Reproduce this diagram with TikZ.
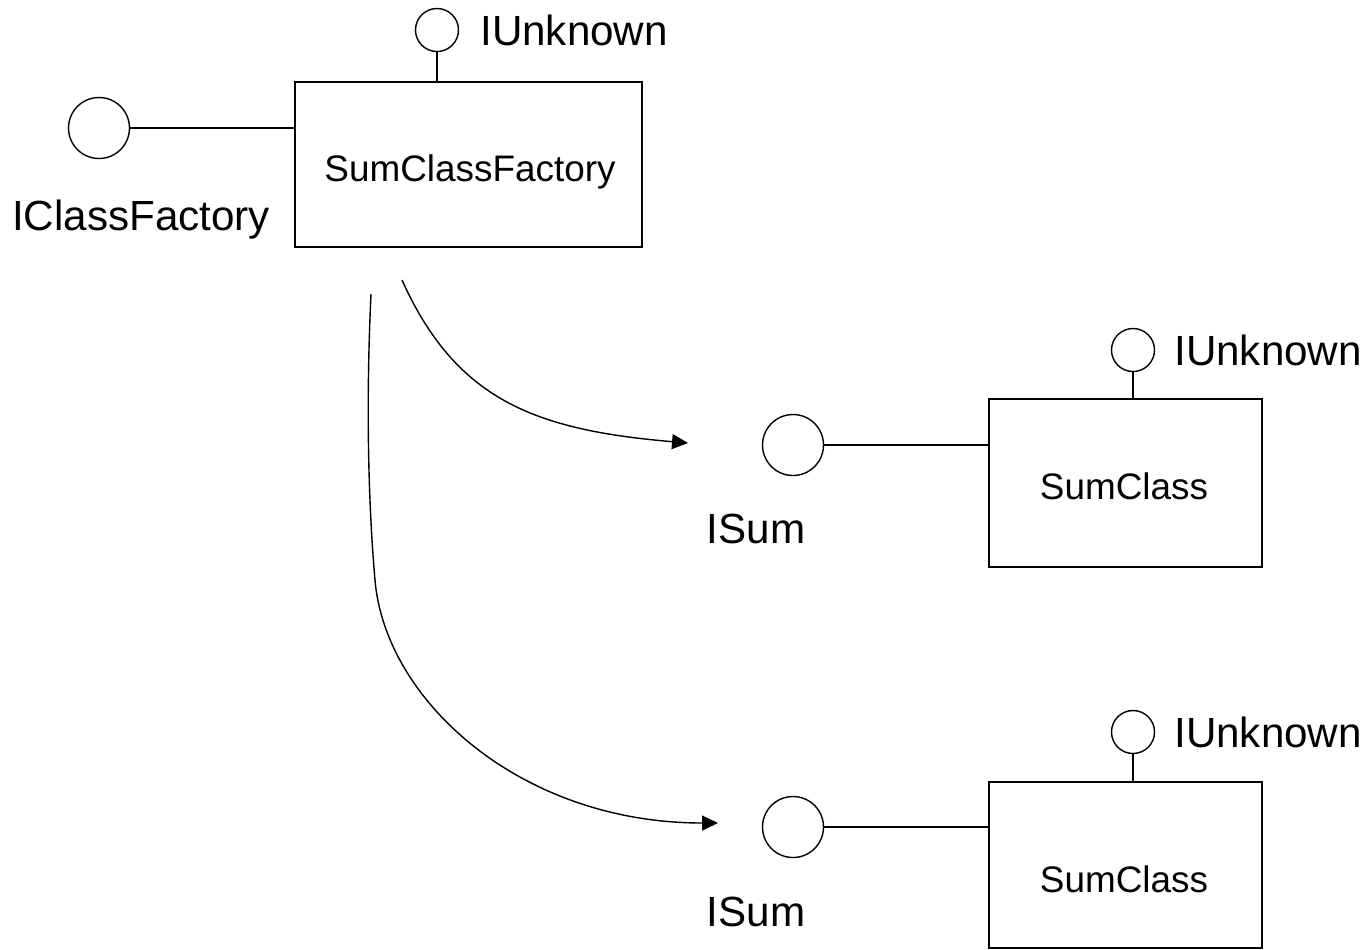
\documentclass[tikz,border=0pt]{standalone}
\usepackage{fontspec}
\setmainfont{Liberation Sans}
\usetikzlibrary{arrows.meta}
\tikzset{
	classbox/.style={draw, line width=0.9pt, inner sep=0pt},
	iface/.style={draw, circle, line width=0.8pt, inner sep=0pt, minimum size=#1},
	iface/.default=1.22cm,
	bigtext/.style={inner sep=0pt, font=\fontsize{24}{28}\selectfont},
	smalltext/.style={inner sep=0pt, font=\fontsize{21}{25}\selectfont},
	wire/.style={line width=0.8pt},
	call/.style={line width=0.8pt, -{Triangle[length=3.2mm,width=3.0mm]}}
}

\begin{document}
\begin{tikzpicture}
			%%%%% START %%%%%
			\useasboundingbox (0, 0) rectangle (27.42, -18.98);
			
			% factory
			\node[classbox, minimum width=6.94cm, minimum height=3.30cm] (fbox) at (9.37, -3.29) {};
			\node[smalltext, anchor=base] (ftext) at (9.40, -3.62) {SumClassFactory};
			
			\node[iface=0.86cm] (funk) at (8.74, -0.60) {};
			\node[bigtext, anchor=base west] (funklab) at (9.60, -0.90) {IUnknown};
			\draw[wire] (funk.south) -- (funk.south |- fbox.north);
			
			\node[iface] (fcf) at (1.98, -2.56) {};
			\node[bigtext, anchor=base] (fcflab) at (2.82, -4.60) {IClassFactory};
			\draw[wire] (fcf.east) -- (fcf.east -| fbox.west);
			
			% first object
			\node[classbox, minimum width=5.46cm, minimum height=3.36cm] (cboxa) at (22.51, -9.66) {};
			\node[smalltext, anchor=base] (ctexta) at (22.48, -9.98) {SumClass};
			
			\node[iface=0.86cm] (cunka) at (22.66, -7.00) {};
			\node[bigtext, anchor=base west] (cunklaba) at (23.48, -7.30) {IUnknown};
			\draw[wire] (cunka.south) -- (cunka.south |- cboxa.north);
			
			\node[iface] (csuma) at (15.86, -8.90) {};
			\node[bigtext, anchor=base] (csumlaba) at (15.12, -10.86) {ISum};
			\draw[wire] (csuma.east) -- (csuma.east -| cboxa.west);
			
			% second object
			\node[classbox, minimum width=5.46cm, minimum height=3.32cm] (cboxb) at (22.51, -17.30) {};
			\node[smalltext, anchor=base] (ctextb) at (22.48, -17.84) {SumClass};
			
			\node[iface=0.86cm] (cunkb) at (22.66, -14.64) {};
			\node[bigtext, anchor=base west] (cunklabb) at (23.48, -14.94) {IUnknown};
			\draw[wire] (cunkb.south) -- (cunkb.south |- cboxb.north);
			
			\node[iface] (csumb) at (15.86, -16.54) {};
			\node[bigtext, anchor=base] (csumlabb) at (15.12, -18.52) {ISum};
			\draw[wire] (csumb.east) -- (csumb.east -| cboxb.west);
			
			% creation arrows
			\coordinate (starta) at (8.04, -5.60);
			\coordinate (enda) at (13.76, -8.86);
			\coordinate (startb) at (7.42, -5.88);
			\coordinate (endb) at (14.36, -16.46);
			
			\draw[call] (starta) .. controls (9.12, -8.00) and (10.70, -8.60) .. (enda);
			\draw[call] (startb) .. controls (7.32, -8.00) and (7.36, -10.00) .. (7.50, -11.60)
				.. controls (7.70, -14.00) and (10.40, -16.46) .. (endb);
			
			%%%%% END %%%%%
		\end{tikzpicture}
\end{document}
